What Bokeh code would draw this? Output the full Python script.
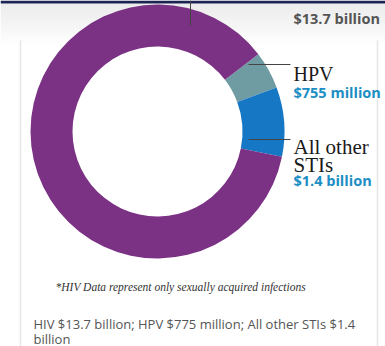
import numpy as np
from bokeh.plotting import figure
from bokeh.models import Range1d
from bokeh.core.properties import value
from bokeh.embed import file_html
from bokeh.resources import INLINE

# ---- data ----
categories = ["HPV", "All other STIs", "HIV"]
costs_billion = [0.755, 1.4, 13.7]
colors = ["#6f9ba3", "#1677c4", "#7b3285"]
value_labels = ["$755 million", "$1.4 billion", "$13.7 billion"]
footnote = "*HIV Data represent only sexually acquired infections"
desc_lines = ["HIV $13.7 billion; HPV $775 million; All other STIs $1.4", "billion"]

W, H = 385, 346
p = figure(width=W, height=H, x_range=Range1d(0, W), y_range=Range1d(0, H),
           output_backend="svg", toolbar_location=None, min_border=0)
p.axis.visible = False
p.grid.visible = False
p.outline_line_color = None
p.background_fill_color = "#ffffff"
p.border_fill_color = "#ffffff"

def Y(y):
    return H - y

# top gradient + band
for i in range(14):
    p.quad(left=0, right=W, top=Y(3 + i * 3), bottom=Y(6 + i * 3),
           fill_color="#c8c8c8", fill_alpha=0.35 * (1 - i / 14), line_color=None)
p.quad(left=0, right=W, top=Y(0), bottom=Y(3), fill_color="#1b2452", line_color=None)
# card edges
p.segment(x0=[20, 377], y0=[Y(40), Y(40)], x1=[20, 377], y1=[Y(346), Y(346)],
          line_color="#e6e6e6", line_width=1.5)

# donut
cx, cy = 157, Y(131)
total = sum(costs_billion)
small = costs_billion[0] + costs_billion[1]
start_deg = 77 - 360 * small / total / 2  # clockwise from top
fr = np.array(costs_billion) / total
cum = np.concatenate([[0], np.cumsum(fr)])
th0 = start_deg + 360 * cum[:-1]
th1 = start_deg + 360 * cum[1:]
sa = np.radians(90 - th0)
ea = np.radians(90 - th1)
p.annular_wedge(x=cx, y=cy, inner_radius=85, outer_radius=127,
                start_angle=list(sa), end_angle=list(ea), direction="clock",
                fill_color=colors, line_color=None)

# leader lines
p.segment(x0=[190, 248, 248], y0=[Y(0), Y(64), Y(139)],
          x1=[190, 290, 290], y1=[Y(25), Y(64), Y(139)],
          line_color="#444444", line_width=1)

serif = value("Liberation Serif")
sans = value("Open Sans")
# labels
p.text(x=[293], y=[Y(73)], text=["HPV"], text_font=serif, text_font_size="20px",
       text_color="#1a1a1a", text_baseline="alphabetic")
p.text(x=[293, 293], y=[Y(146), Y(164)], text=["All other", "STIs"], text_font=serif,
       text_font_size="21px", text_color="#1a1a1a", text_baseline="alphabetic")
p.text(x=[293, 293], y=[Y(92), Y(180)], text=[value_labels[0], value_labels[1]],
       text_font=sans, text_font_style="bold", text_font_size="14.5px",
       text_color="#1c8ec4", text_baseline="alphabetic")
p.text(x=[293], y=[Y(18)], text=[value_labels[2]], text_font=sans,
       text_font_style="bold", text_font_size="14.5px", text_color="#555555",
       text_baseline="alphabetic")

# footnote and description
p.text(x=[55], y=[Y(286)], text=[footnote], text_font=serif, text_font_style="italic",
       text_font_size="11.5px", text_color="#333333", text_baseline="alphabetic")
p.text(x=[33, 33], y=[Y(323), Y(338)], text=desc_lines, text_font=sans,
       text_font_size="13px", text_color="#555555", text_baseline="alphabetic")

open("out.html", "w").write(file_html(p, INLINE))
